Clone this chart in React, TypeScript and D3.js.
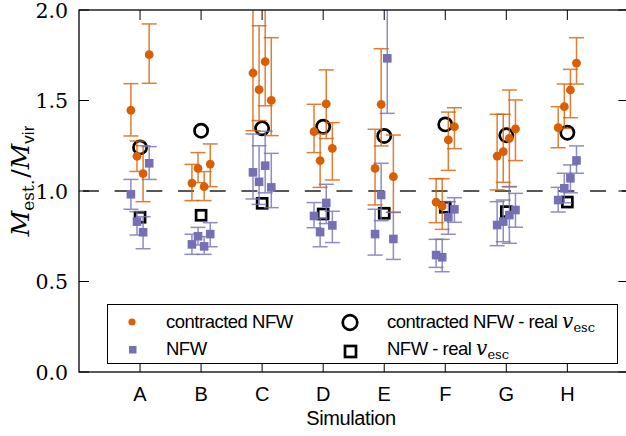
import React from "react";
import * as d3 from "d3";

// Simulation labels
const categories = ["A", "B", "C", "D", "E", "F", "G", "H"];

// Horizontal offsets of the four estimates within each simulation (x units)
const offsets = [-0.15, -0.05, 0.05, 0.15];

// Contracted NFW estimates (value, lower and upper error bound)
const cnfwVal: (number | null)[][] = [
  [1.446, 1.192, 1.096, 1.753],
  [1.044, 1.125, 1.024, 1.149],
  [1.652, 1.56, 1.715, 1.501],
  [1.328, 1.168, 1.481, 1.236],
  [1.125, 1.479, null, 1.079],
  [0.939, 0.917, 1.282, 1.355],
  [1.193, 1.217, 1.291, 1.343],
  [1.35, 1.466, 1.558, 1.707],
];
const cnfwLo: (number | null)[][] = [
  [1.304, 1.108, 0.941, 1.595],
  [0.947, 1.046, 0.947, 1.024],
  [1.333, 1.389, 1.471, 1.306],
  [1.212, 1.02, 1.29, 1.061],
  [0.923, 1.249, null, 0.882],
  [0.825, 0.788, 1.114, 1.234],
  [1.006, 1.048, 1.024, 1.168],
  [1.239, 1.346, 1.405, 1.591],
];
const cnfwHi: (number | null)[][] = [
  [1.593, 1.276, 1.25, 1.923],
  [1.147, 1.212, 1.107, 1.26],
  [2.3, 1.913, 2.3, 1.847],
  [1.479, 1.316, 1.669, 1.378],
  [1.341, 1.786, null, 1.309],
  [1.068, 1.068, 1.436, 1.46],
  [1.424, 1.424, 1.558, 1.503],
  [1.466, 1.591, 1.672, 1.847],
];

// NFW estimates (value, lower and upper error bound)
const nfwVal: number[][] = [
  [0.982, 0.831, 0.772, 1.153],
  [0.705, 0.75, 0.694, 0.762],
  [1.103, 1.051, 1.14, 1.02],
  [0.862, 0.773, 0.934, 0.81],
  [0.762, 0.978, 1.733, 0.735],
  [0.646, 0.634, 0.855, 0.899],
  [0.812, 0.831, 0.867, 0.895],
  [0.95, 1.015, 1.07, 1.169],
];
const nfwLo: number[][] = [
  [0.899, 0.757, 0.681, 1.064],
  [0.65, 0.702, 0.65, 0.692],
  [0.956, 0.926, 0.99, 0.908],
  [0.797, 0.692, 0.82, 0.715],
  [0.646, 0.836, 1.429, 0.622],
  [0.578, 0.554, 0.761, 0.827],
  [0.698, 0.72, 0.711, 0.8],
  [0.884, 0.935, 0.99, 1.098],
];
const nfwHi: number[][] = [
  [1.064, 0.886, 0.858, 1.245],
  [0.761, 0.799, 0.748, 0.825],
  [1.315, 1.25, 1.33, 1.208],
  [0.936, 0.85, 1.037, 0.888],
  [0.899, 1.153, 2.3, 0.882],
  [0.733, 0.733, 0.941, 0.963],
  [0.941, 0.95, 1.024, 0.987],
  [1.02, 1.098, 1.144, 1.249],
];

// Estimates using the real escape velocity
const realCnfw = [1.241, 1.333, 1.346, 1.355, 1.304, 1.368, 1.308, 1.322];
const realNfw = [0.855, 0.866, 0.932, 0.873, 0.877, 0.91, 0.886, 0.939];

const yTicks = [0, 0.5, 1.0, 1.5, 2.0];

const W = 626;
const H = 436;
const ORANGE = "#d95f02";
const PURPLE = "#7570b3";
const SANS = "'Liberation Sans', Arial, sans-serif";
const SERIF = "'DejaVu Serif', 'Liberation Serif', serif";

type Pt = { x: number; v: number; lo: number; hi: number };

function collect(val: (number | null)[][], lo: (number | null)[][], hi: (number | null)[][]): Pt[] {
  const out: Pt[] = [];
  val.forEach((row, i) =>
    row.forEach((v, j) => {
      if (v == null) return;
      out.push({ x: i + 1 + offsets[j], v, lo: lo[i][j] as number, hi: hi[i][j] as number });
    })
  );
  return out;
}

export default function App() {
  const x = d3.scaleLinear().domain([0, 9]).range([79, 628.4]);
  const y = d3.scaleLinear().domain([0, 2]).range([372, 10]);
  const left = x(0);
  const right = x(9);
  const top = y(2);
  const bottom = y(0);

  const cnfw = collect(cnfwVal, cnfwLo, cnfwHi);
  const nfw = collect(nfwVal, nfwLo, nfwHi);
  const cap = 7.5;

  const errBars = (pts: Pt[], color: string) =>
    pts.map((p, i) => (
      <g key={i} stroke={color} strokeWidth={1.5} opacity={0.8}>
        <line x1={x(p.x)} x2={x(p.x)} y1={y(p.lo)} y2={y(p.hi)} />
        <line x1={x(p.x) - cap} x2={x(p.x) + cap} y1={y(p.lo)} y2={y(p.lo)} />
        <line x1={x(p.x) - cap} x2={x(p.x) + cap} y1={y(p.hi)} y2={y(p.hi)} />
      </g>
    ));

  return (
    <svg
      width={W}
      height={H}
      style={{ position: "absolute", left: 0, top: 0, background: "#fff" }}
      xmlns="http://www.w3.org/2000/svg"
    >
      <defs>
        <clipPath id="plotArea">
          <rect x={left} y={top} width={right - left} height={bottom - top} />
        </clipPath>
      </defs>

      {/* reference line at M_est = M_vir */}
      <line
        x1={left}
        x2={right}
        y1={y(1)}
        y2={y(1)}
        stroke="#222"
        strokeWidth={1.5}
        strokeDasharray="16 15.7"
        strokeDashoffset={27.8}
      />

      <g clipPath="url(#plotArea)">
        {/* real escape velocity estimates */}
        {realCnfw.map((v, i) => (
          <circle key={"rc" + i} cx={x(i + 1)} cy={y(v)} r={6.6} fill="none" stroke="#000" strokeWidth={2.7} />
        ))}
        {realNfw.map((v, i) => (
          <rect key={"rn" + i} x={x(i + 1) - 5} y={y(v) - 5} width={10} height={10} fill="none" stroke="#000" strokeWidth={2.7} />
        ))}

        {errBars(cnfw, ORANGE)}
        {cnfw.map((p, i) => (
          <circle key={"c" + i} cx={x(p.x)} cy={y(p.v)} r={4.4} fill={ORANGE} />
        ))}

        {errBars(nfw, PURPLE)}
        {nfw.map((p, i) => (
          <rect key={"n" + i} x={x(p.x) - 4.3} y={y(p.v) - 4.3} width={8.6} height={8.6} fill={PURPLE} />
        ))}
      </g>

      {/* ticks */}
      <g stroke="#000" strokeWidth={1}>
        {yTicks.map((t) => (
          <g key={"yt" + t}>
            <line x1={left} x2={left + 10} y1={y(t)} y2={y(t)} />
            <line x1={right} x2={right - 10} y1={y(t)} y2={y(t)} />
          </g>
        ))}
        {categories.map((c, i) => (
          <g key={"xt" + c}>
            <line x1={x(i + 1)} x2={x(i + 1)} y1={top} y2={top + 10} />
            <line x1={x(i + 1)} x2={x(i + 1)} y1={bottom} y2={bottom - 10} />
          </g>
        ))}
      </g>

      {/* legend */}
      <g>
        <rect x={107.5} y={304.5} width={510} height={59} fill="#fff" stroke="#000" strokeWidth={1} />
        <circle cx={132} cy={322} r={3.6} fill={ORANGE} />
        <rect x={129} y={346} width={7.5} height={7.5} fill={PURPLE} />
        <text x={166} y={328} fontFamily={SANS} fontSize={18.5} letterSpacing={-0.5}>
          contracted NFW
        </text>
        <text x={166} y={355} fontFamily={SANS} fontSize={18.5} letterSpacing={-0.5}>
          NFW
        </text>
        <circle cx={350} cy={322.5} r={7.3} fill="none" stroke="#000" strokeWidth={2.7} />
        <rect x={345} y={346} width={11} height={11} fill="none" stroke="#000" strokeWidth={2.7} />
        <text x={387} y={328} fontFamily={SANS} fontSize={18.5} letterSpacing={-0.5}>
          contracted NFW - real{" "}
          <tspan fontFamily={SERIF} fontStyle="italic" fontSize={20} letterSpacing={0}>v</tspan>
          <tspan fontFamily={SERIF} fontSize={13} dy={4} letterSpacing={0}>esc</tspan>
        </text>
        <text x={387} y={355} fontFamily={SANS} fontSize={18.5} letterSpacing={-0.5}>
          NFW - real{" "}
          <tspan fontFamily={SERIF} fontStyle="italic" fontSize={20} letterSpacing={0}>v</tspan>
          <tspan fontFamily={SERIF} fontSize={13} dy={4} letterSpacing={0}>esc</tspan>
        </text>
      </g>

      {/* frame */}
      <rect x={left} y={top} width={right - left} height={bottom - top} fill="none" stroke="#000" strokeWidth={1.3} />

      {/* tick labels */}
      {yTicks.map((t) => (
        <text
          key={"yl" + t}
          x={68}
          y={y(t) + 7.5}
          textAnchor="end"
          fontFamily={SERIF}
          fontSize={20.5}
        >
          {d3.format(".1f")(t)}
        </text>
      ))}
      {categories.map((c, i) => (
        <text key={"xl" + c} x={x(i + 1)} y={401} textAnchor="middle" fontFamily={SANS} fontSize={20}>
          {c}
        </text>
      ))}

      {/* axis titles */}
      <text x={351} y={425} textAnchor="middle" fontFamily={SANS} fontSize={20} letterSpacing={-0.4}>
        Simulation
      </text>
      <text
        transform={`translate(29, 181) rotate(-90)`}
        textAnchor="middle"
        fontFamily={SERIF}
        fontSize={25}
      >
        <tspan fontStyle="italic">M</tspan>
        <tspan fontSize={17} dy={5}>est.</tspan>
        <tspan dy={-5} dx={2}>/</tspan>
        <tspan fontStyle="italic">M</tspan>
        <tspan fontSize={17} dy={5} fontFamily={SANS}>vir</tspan>
      </text>
    </svg>
  );
}
